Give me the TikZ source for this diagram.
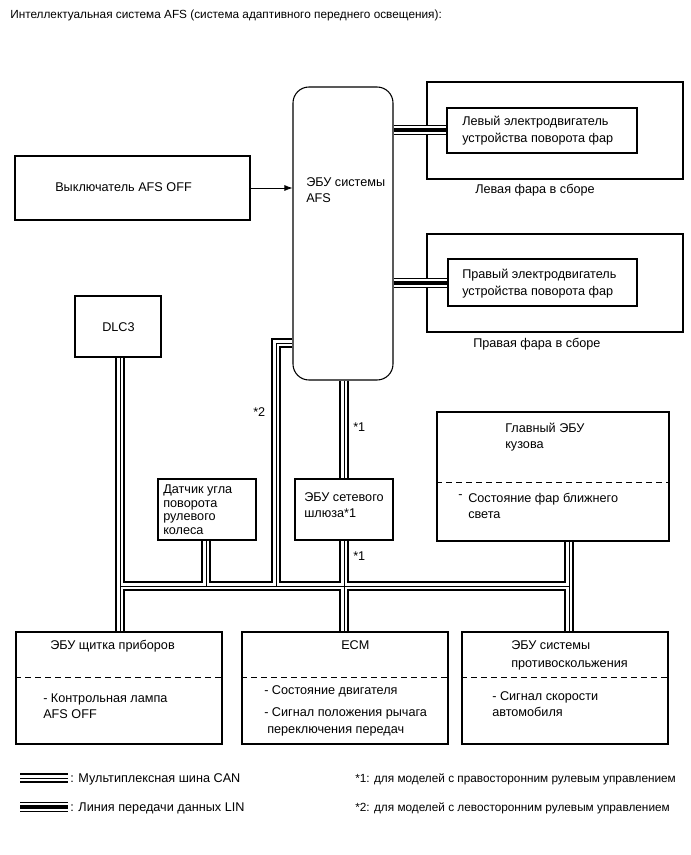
\documentclass[tikz,border=0pt]{standalone}
\usepackage{fontspec}
\setmainfont{Liberation Sans}
\usetikzlibrary{arrows.meta,fit}
\begin{document}
\begin{tikzpicture}[x=0.75pt,y=-0.75pt,
  boxst/.style={draw, line width=0.8pt, inner sep=0pt},
  txt/.style={anchor=base west, inner sep=0pt, font=\fontsize{9.5}{11}\selectfont},
  smalltxt/.style={txt, font=\fontsize{8.85}{11}\selectfont},
  dashsep/.style={line width=0.75pt, dash pattern=on 4.5pt off 3pt},
  canline/.style={line width=8pt, postaction={draw, white, line width=4.5pt}, postaction={draw, black, line width=0.75pt}},
  linline/.style={line width=7.5pt, postaction={draw, white, line width=6pt}, postaction={draw, black, line width=3pt}},
]
\useasboundingbox (0,0) rectangle (691,855);
\fill[white] (0,0) rectangle (691,855);

% title
\node[smalltxt] (title) at (10,19) {Интеллектуальная система AFS (система адаптивного переднего освещения):};

% boxes
\node[boxst, fit={(15,156) (250,220)}] (sw) {};
\node[boxst, rounded corners=12pt, fit={(293,87) (393,380)}] (ecu) {};
\node[boxst, fit={(427,82) (683,179)}] (lho) {};
\node[boxst, fit={(447,108) (637,153)}] (lhi) {};
\node[boxst, fit={(427,234) (683,332)}] (rho) {};
\node[boxst, fit={(448,259) (637,306)}] (rhi) {};
\node[boxst, fit={(75,296) (161,357)}] (dlc) {};
\node[boxst, fit={(158,479) (256,540)}] (ss) {};
\node[boxst, fit={(295,479) (393,540)}] (gw) {};
\node[boxst, fit={(437,412) (669,541)}] (body) {};
\node[boxst, fit={(16,632) (222,744)}] (b1) {};
\node[boxst, fit={(242,632) (448,744)}] (b2) {};
\node[boxst, fit={(462,632) (668,744)}] (b3) {};

% dashed separators
\draw[dashsep] (body.west |- 0,482) -- (body.east |- 0,482);
\draw[dashsep] (b1.west |- 0,677) -- (b1.east |- 0,677);
\draw[dashsep] (b2.west |- 0,677) -- (b2.east |- 0,677);
\draw[dashsep] (b3.west |- 0,677) -- (b3.east |- 0,677);

% texts
\node[txt] (tsw) at (55,192) {Выключатель AFS OFF};
\node[txt] (tecu1) at (306,187) {ЭБУ системы};
\node[txt] (tecu2) at (306,203) {AFS};
\node[txt] (tl1) at (462,126) {Левый электродвигатель};
\node[txt] (tl2) at (462,143) {устройства поворота фар};
\node[txt] (tl3) at (475,194) {Левая фара в сборе};
\node[txt] (tr1) at (462,278) {Правый электродвигатель};
\node[txt] (tr2) at (462,295) {устройства поворота фар};
\node[txt] (tr3) at (473,347) {Правая фара в сборе};
\node[txt] (tdlc) at (102,331) {DLC3};
\node[txt] (ts1) at (163,493) {Датчик угла};
\node[txt] (ts2) at (163,507) {поворота};
\node[txt] (ts3) at (163,520) {рулевого};
\node[txt] (ts4) at (163,534) {колеса};
\node[txt] (tg1) at (304,501) {ЭБУ сетевого};
\node[txt] (tg2) at (304,517) {шлюза*1};
\node[txt] (tb1) at (505,432) {Главный ЭБУ};
\node[txt] (tb2) at (505,448) {кузова};
\node[txt] (tbd) at (458,498) {-};
\node[txt] (tb3) at (468,502) {Состояние фар ближнего};
\node[txt] (tb4) at (468,518) {света};
\node[txt] (tk1) at (50,649) {ЭБУ щитка приборов};
\node[txt] (tk2) at (43,702) {- Контрольная лампа};
\node[txt] (tk3) at (43,718) {AFS OFF};
\node[txt] (te1) at (341,649) {ECM};
\node[txt] (te2) at (264,694) {- Состояние двигателя};
\node[txt] (te3) at (264,716) {- Сигнал положения рычага};
\node[txt] (te4) at (267,733) {переключения передач};
\node[txt] (ta1) at (511,649) {ЭБУ системы};
\node[txt] (ta2) at (511,667) {противоскольжения};
\node[txt] (ta3) at (492,700) {- Сигнал скорости};
\node[txt] (ta4) at (492,716) {автомобиля};
\node[txt] (st2) at (253,416) {*2};
\node[txt] (st1a) at (353,431) {*1};
\node[txt] (st1b) at (353,560) {*1};

% arrow from switch
\coordinate (ya) at (0,188);
\draw[line width=0.6pt, -{Latex[length=6pt,width=4.5pt]}] (sw.east |- ya) -- (ecu.west |- ya);

% LIN lines
\draw[linline] (ecu.east |- lhi.west) -- (lhi.west);
\draw[linline] (ecu.east |- rhi.west) -- (rhi.west);

% CAN network
\coordinate (cA) at (120,586);
\coordinate (cB) at (569,586);
\coordinate (cS) at (206,586);
\coordinate (c2) at (276,586);
\coordinate (c2t) at (276,343);
\def\canroute{(dlc.south -| cA) -- (b1.north -| cA)
  (cA) -- (cB)
  (cS |- ss.south) -- (cS)
  (c2t -| ecu.west) -- (c2t) -- (c2)
  (gw.north |- ecu.south) -- (gw.north)
  (gw.south) -- (gw.south |- b2.north)
  (cB |- body.south) -- (cB |- b3.north)}
\draw[line width=8pt] \canroute;
\draw[line width=4.5pt, white] \canroute;
\draw[line width=0.75pt] \canroute;

% legend
\coordinate (lg1a) at (20,778);
\coordinate (lg1b) at (68,778);
\coordinate (lg2a) at (20,807);
\coordinate (lg2b) at (68,807);
\draw[canline] (lg1a) -- (lg1b);
\draw[linline] (lg2a) -- (lg2b);
\node[txt] (lt1) at (70,782) {: Мультиплексная шина CAN};
\node[txt] (lt2) at (70,811) {: Линия передачи данных LIN};
\node[smalltxt] (lt3) at (355,782) {*1: для моделей с правосторонним рулевым управлением};
\node[smalltxt] (lt4) at (355,811) {*2: для моделей с левосторонним рулевым управлением};
\end{tikzpicture}
\end{document}
